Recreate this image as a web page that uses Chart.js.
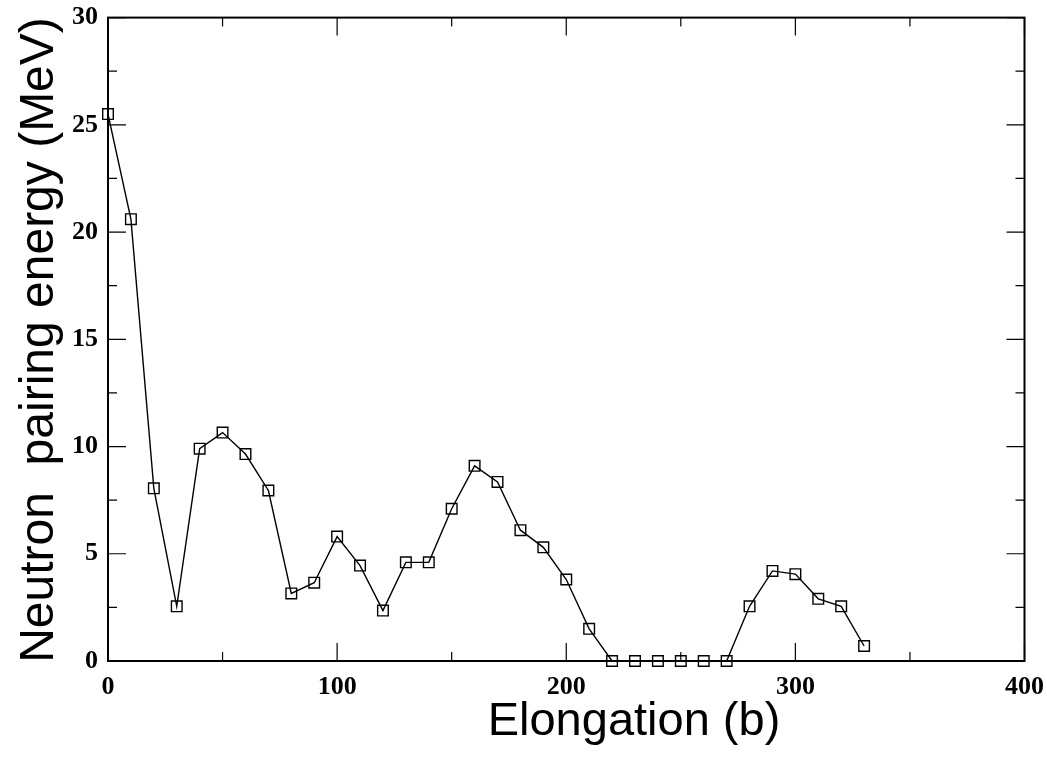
<!DOCTYPE html>
<html>
<head>
<meta charset="utf-8">
<script src="https://cdn.jsdelivr.net/npm/chart.js@4.4.1/dist/chart.umd.min.js"></script>
<style>
  html, body { margin: 0; padding: 0; background: #fff; }
  canvas { display: block; }
</style>
</head>
<body>
<canvas id="pairing" width="1047" height="762"></canvas>
<script>
// Data
const elongation = [0, 10, 20, 30, 40, 50, 60, 70, 80, 90, 100, 110, 120, 130, 140, 150, 160,
                    170, 180, 190, 200, 210, 220, 230, 240, 250, 260, 270, 280, 290, 300, 310, 320, 330];
const pairingEnergy = [25.5, 20.6, 8.05, 2.55, 9.9, 10.65, 9.65, 7.95, 3.15, 3.65, 5.8, 4.45, 2.35, 4.6, 4.6, 7.1, 9.1,
                       8.35, 6.1, 5.3, 3.8, 1.5, 0, 0, 0, 0, 0, 0, 2.55, 4.2, 4.05, 2.9, 2.55, 0.7];
const xTicks = [0, 100, 200, 300, 400];
const yTicks = [0, 5, 10, 15, 20, 25, 30];
const xMinorStep = 50;
const yMinorStep = 2.5;

const xTitle = 'Elongation (b)';
const yTitle = 'Neutron  pairing energy (MeV)';

// box, inward ticks on all sides, and axis titles
const framePlugin = {
  id: 'frame',
  afterDatasetsDraw(chart) {
    const { ctx, chartArea: a, scales: { x, y } } = chart;
    ctx.save();
    ctx.strokeStyle = '#000';
    ctx.lineWidth = 1.2;
    ctx.beginPath();
    for (let v = x.min; v <= x.max; v += xMinorStep) {
      const px = x.getPixelForValue(v);
      const len = xTicks.includes(v) ? 18 : 9;
      ctx.moveTo(px, a.bottom); ctx.lineTo(px, a.bottom - len);
      ctx.moveTo(px, a.top); ctx.lineTo(px, a.top + len);
    }
    for (let v = y.min; v <= y.max; v += yMinorStep) {
      const py = y.getPixelForValue(v);
      const len = yTicks.includes(v) ? 18 : 9;
      ctx.moveTo(a.left, py); ctx.lineTo(a.left + len, py);
      ctx.moveTo(a.right, py); ctx.lineTo(a.right - len, py);
    }
    ctx.stroke();

    ctx.lineWidth = 2;
    ctx.strokeRect(a.left, a.top, a.right - a.left, a.bottom - a.top);

    ctx.fillStyle = '#000';
    ctx.font = '47px "Liberation Sans", Arial, sans-serif';
    ctx.textAlign = 'center';
    ctx.textBaseline = 'middle';
    ctx.fillText(xTitle, 634, 722);
    ctx.font = '48px "Liberation Sans", Arial, sans-serif';
    ctx.translate(40, 340);
    ctx.rotate(-Math.PI / 2);
    ctx.fillText(yTitle, 0, 0);
    ctx.restore();
  }
};

const tickFont = { family: '"Liberation Serif", "Times New Roman", serif', size: 26, weight: 'bold' };

new Chart(document.getElementById('pairing'), {
  type: 'line',
  data: {
    datasets: [{
      data: elongation.map((e, i) => ({ x: e, y: pairingEnergy[i] })),
      borderColor: '#000',
      borderWidth: 1.4,
      tension: 0,
      pointStyle: 'rect',
      pointRadius: 7.5,
      pointBorderWidth: 1.4,
      pointBorderColor: '#000',
      pointBackgroundColor: 'rgba(0,0,0,0)',
      clip: false
    }]
  },
  options: {
    responsive: false,
    animation: false,
    layout: { padding: { top: 14, right: 21, left: 0, bottom: 0 } },
    plugins: { legend: { display: false }, tooltip: { enabled: false } },
    scales: {
      x: {
        type: 'linear',
        min: 0, max: 400,
        afterBuildTicks: s => { s.ticks = xTicks.map(v => ({ value: v })); },
        afterFit: s => { s.height = 101; },
        grid: { display: false },
        border: { display: false },
        ticks: { color: '#000', font: tickFont, padding: 3, maxRotation: 0 }
      },
      y: {
        type: 'linear',
        min: 0, max: 30,
        afterBuildTicks: s => { s.ticks = yTicks.map(v => ({ value: v })); },
        afterFit: s => { s.width = 108; },
        grid: { display: false },
        border: { display: false },
        ticks: { color: '#000', font: tickFont, padding: 2 }
      }
    }
  },
  plugins: [framePlugin]
});
</script>
</body>
</html>
